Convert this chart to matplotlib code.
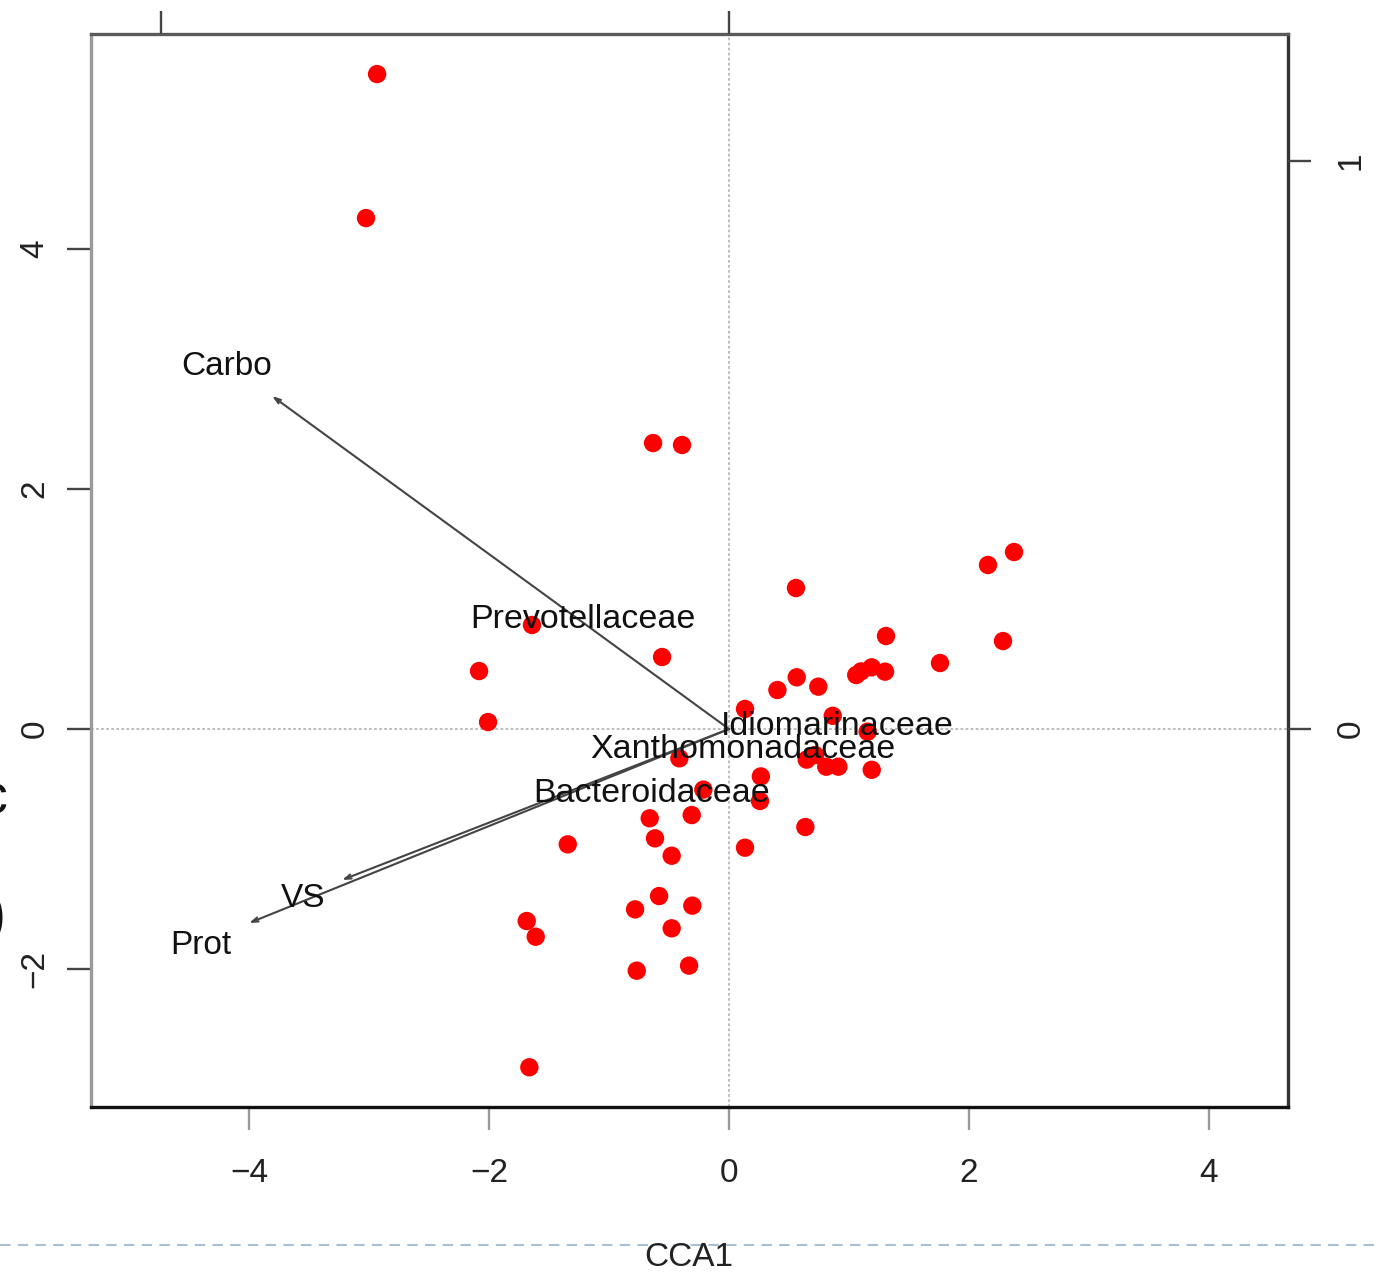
import matplotlib
matplotlib.use("Agg")
import matplotlib.pyplot as plt
from matplotlib.lines import Line2D

plt.rcParams['font.family'] = ['Liberation Sans', 'DejaVu Sans']

# ---- data ----
site_x = [-2.933, -3.025, -0.633, -0.392, 0.558, 2.158, 2.375, 2.283, 1.758, 1.308,
          -1.642, -0.558, -2.083, -2.008, 1.060, 1.100, 1.189, 1.300, 0.564, 0.403,
          0.744, 0.133, 0.864, 1.155, 0.647, 0.717, 0.810, 0.911, 1.189, 0.265,
          0.258, -0.214, -0.414, 0.636, -0.661, -0.311, -1.344, -0.617, -0.478, 0.133,
          -0.583, -0.783, -0.306, -0.478, -1.686, -1.611, -0.769, -0.333, -1.664]
site_y = [5.458, 4.258, 2.383, 2.367, 1.175, 1.367, 1.475, 0.733, 0.550, 0.775,
          0.867, 0.600, 0.483, 0.058, 0.450, 0.480, 0.514, 0.478, 0.431, 0.325,
          0.353, 0.167, 0.110, -0.022, -0.255, -0.217, -0.314, -0.314, -0.340, -0.395,
          -0.600, -0.505, -0.244, -0.817, -0.744, -0.717, -0.961, -0.911, -1.056, -0.989,
          -1.392, -1.503, -1.472, -1.661, -1.600, -1.731, -2.014, -1.972, -2.819]

env_names = ['Carbo', 'Prot', 'VS']
env_x = [-3.808, -4.000, -3.225]
env_y = [2.775, -1.617, -1.258]

species_names = ['Prevotellaceae', 'Idiomarinaceae', 'Xanthomonadaceae', 'Bacteroidaceae']
species_x = [-1.217, 0.900, 0.117, -0.642]
species_y = [0.910, 0.017, -0.173, -0.540]

x_ticks = [-4, -2, 0, 2, 4]
y_ticks = [-2, 0, 2, 4]
right_ticks = [0, 1]
top_ticks = [-1, 0]

# ---- figure ----
W, H = 1376, 1272
fig = plt.figure(figsize=(W / 100, H / 100), dpi=100)
ax = fig.add_axes([91 / W, 1 - 1107 / H, (1288 - 91) / W, (1107 - 34) / H])

ax.set_xlim(-5.317, 4.658)
ax.set_ylim(-3.15, 5.792)

ax.axhline(0, color='#bdbdbd', lw=1.4, ls=(0, (1.4, 1.2)), zorder=1)
ax.axvline(0, color='#bdbdbd', lw=1.4, ls=(0, (1.4, 1.2)), zorder=1)

ax.scatter(site_x, site_y, s=175, color='#ff0000', edgecolors='none', zorder=2)

for name, ex, ey in zip(env_names, env_x, env_y):
    ax.annotate('', xy=(ex, ey), xytext=(0, 0),
                arrowprops=dict(arrowstyle='->,head_length=0.45,head_width=0.15',
                                color='#444444', lw=1.5, shrinkA=0, shrinkB=0),
                zorder=3)
    ax.text(ex * 1.1, ey * 1.1, name, ha='center', va='center_baseline', fontsize=24,
            color='#111111', zorder=4)

for name, sx, sy in zip(species_names, species_x, species_y):
    ax.text(sx, sy, name, ha='center', va='center', fontsize=24.5,
            color='#111111', zorder=4)

ax.set_xticks(x_ticks)
ax.set_xticklabels([f'\u2212{abs(v)}' if v < 0 else str(v) for v in x_ticks])
ax.set_yticks(y_ticks)
ax.set_yticklabels([f'\u2212{abs(v)}' if v < 0 else str(v) for v in y_ticks],
                   rotation=90, va='center')
ax.tick_params(axis='x', length=16.5, width=1.7, color='#999999', pad=20,
               labelsize=24, labelcolor='#222222')
ax.tick_params(axis='y', length=17, width=1.7, color='#444444', pad=12,
               labelsize=24, labelcolor='#222222')

ax.spines['left'].set_color('#9a9a9a')
ax.spines['top'].set_color('#5a5a5a')
ax.spines['right'].set_color('#333333')
ax.spines['bottom'].set_color('#111111')
for s in ax.spines.values():
    s.set_linewidth(2.4)

axr = ax.twinx()
axr.set_ylim(-0.6655, 1.2236)
axr.set_yticks(right_ticks)
axr.set_yticklabels([str(v) for v in right_ticks], rotation=90, va='center')
axr.tick_params(axis='y', length=16.5, width=1.7, color='#444444', pad=18,
                labelsize=24, labelcolor='#222222')
for s in axr.spines.values():
    s.set_visible(False)

axt = ax.twiny()
axt.set_xlim(-1.1232, 0.9842)
axt.set_xticks(top_ticks)
axt.set_xticklabels(['' for _ in top_ticks])
axt.tick_params(axis='x', length=16.5, width=1.7, color='#444444')
for s in axt.spines.values():
    s.set_visible(False)

fig.text(689 / W, 1 - 1258 / H, 'CCA1', ha='center', va='center', fontsize=24,
         color='#222222')

# slide artefacts at the edges
fig.add_artist(Line2D([0, 1], [1 - 1245 / H, 1 - 1245 / H], transform=fig.transFigure,
                      color='#a9bfd5', lw=1.5, ls=(0, (5, 3.5)), zorder=0))
fig.text(-6 / W, 1 - 800 / H, 'c', ha='center', va='center', fontsize=40, color='#111111')
fig.text(-4 / W, 1 - 918 / H, ')', ha='center', va='center', fontsize=44, color='#111111')

fig.savefig('out.png', dpi=100)
